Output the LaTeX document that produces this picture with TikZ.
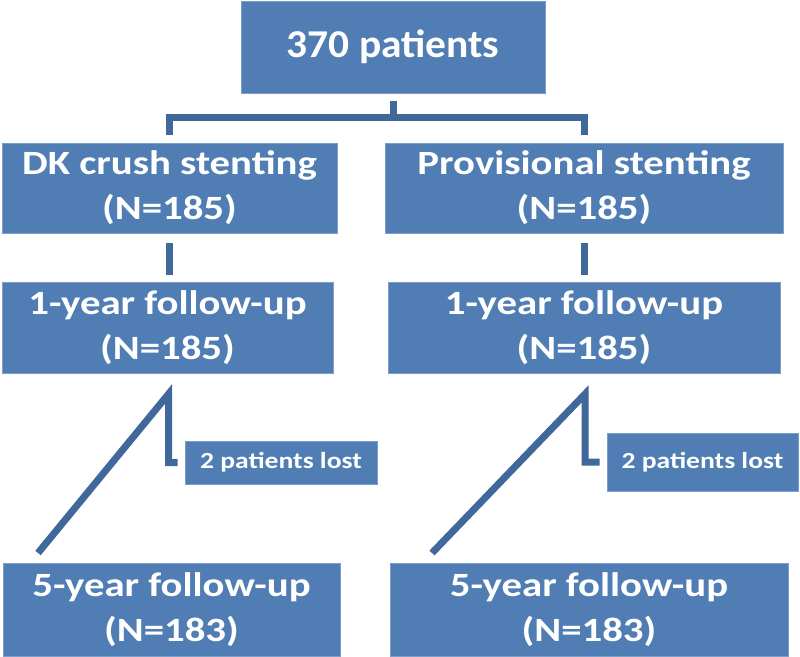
\documentclass[tikz,border=0pt]{standalone}
\usepackage{fontspec}
\setmainfont{Carlito}
\newfontfamily\boxfont{Carlito}[FakeStretch=1.2]
\newfontfamily\topfont{Carlito}[FakeStretch=1.05]
\usepackage{tikz}
\usepackage{color}
\definecolor{boxblue}{RGB}{80,126,180}
\definecolor{edgeblue}{RGB}{125,158,204}
\definecolor{lineblue}{RGB}{64,104,154}

\begin{document}
\begin{tikzpicture}[x=0.75pt,y=0.75pt,yscale=-1,xscale=1,
  bluebox/.style={draw=edgeblue,line width=0.75pt,fill=boxblue,text=white,inner sep=0pt,align=center,font=\boxfont\bfseries\fontsize{25.5}{33.75}\selectfont},
  lostbox/.style={bluebox,font=\boxfont\bfseries\fontsize{17.25}{20}\selectfont},
  link/.style={draw=lineblue,line width=5.25pt}]
%set diagram left start at 0, and has height of 657
\useasboundingbox (0,0) rectangle (800,657);

% Text Node
\draw (393,47) node [bluebox,minimum width=228pt,minimum height=69pt,font=\topfont\bfseries\fontsize{29.6}{36}\selectfont] (top) {370 patients};
% Text Node
\draw (169.5,188) node [bluebox,minimum width=251.25pt,minimum height=67.5pt] (dk) {DK crush stenting\\(N=185)};
% Text Node
\draw (584,188) node [bluebox,minimum width=298.5pt,minimum height=67.5pt] (prov) {Provisional stenting\\(N=185)};
% Text Node
\draw (167.5,327.5) node [bluebox,minimum width=248.25pt,minimum height=68.25pt] (oneL) {1-year follow-up\\(N=185)};
% Text Node
\draw (584,327.5) node [bluebox,minimum width=294pt,minimum height=68.25pt] (oneR) {1-year follow-up\\(N=185)};
% Text Node
\draw (281,462.5) node [lostbox,minimum width=144pt,minimum height=32.25pt] (lostL) {2 patients lost};
% Text Node
\draw (702.5,462) node [lostbox,minimum width=143.25pt,minimum height=43.5pt] (lostR) {2 patients lost};
% Text Node
\draw (171.5,609.5) node [bluebox,minimum width=252.75pt,minimum height=69.75pt] (fiveL) {5-year follow-up\\(N=183)};
% Text Node
\draw (589,609.5) node [bluebox,minimum width=298.5pt,minimum height=69.75pt] (fiveR) {5-year follow-up\\(N=183)};

%Straight Lines
\draw [link, shorten <=5.25pt, shorten >=6pt] (top.south) -- ++(0,23.5) -| (dk.north);
\draw [link, shorten <=5.25pt, shorten >=6pt] (top.south) -- ++(0,23.5) -| (prov.north);
%Straight Lines
\draw [link, shorten <=6.75pt, shorten >=5.25pt] (dk.south) -- (dk.south |- oneL.north);
\draw [link, shorten <=6.75pt, shorten >=5.25pt] (prov.south) -- (prov.south |- oneR.north);

%Straight Lines
\coordinate (apexL) at (168.5,394);
\coordinate (footL) at (38,553);
\draw [link, shorten >=5.25pt] (footL) -- (apexL) |- (lostL.west);
%Straight Lines
\coordinate (apexR) at (585,394);
\coordinate (footR) at (432,553);
\draw [link, shorten >=5.25pt] (footR) -- (apexR) |- (lostR.west);

\end{tikzpicture}
\end{document}
